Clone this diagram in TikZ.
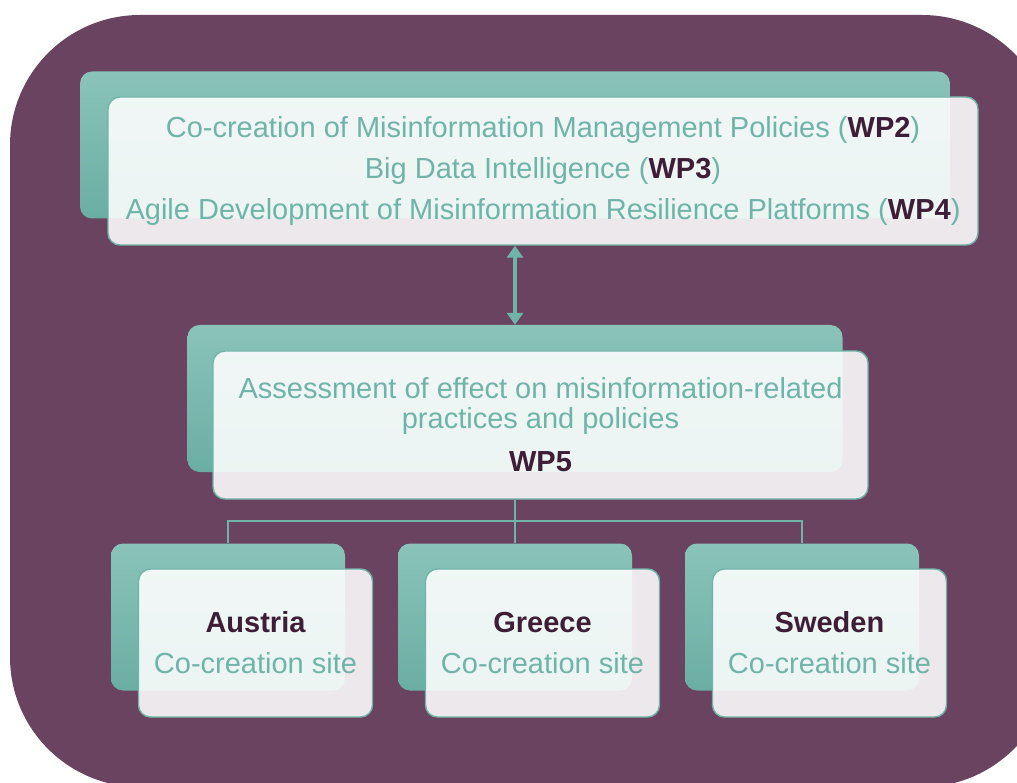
\documentclass[tikz,border=0pt]{standalone}
\usepackage{fontspec}
\setmainfont{Liberation Sans}
\usetikzlibrary{arrows.meta}
\definecolor{plum}{HTML}{6A4360}
\definecolor{tealhi}{HTML}{8AC3B9}
\definecolor{teallo}{HTML}{6AAEA3}
\definecolor{tealtext}{HTML}{6FB4A8}
\definecolor{darkplum}{HTML}{3E1E36}
\newcommand{\wpno}[1]{{\color{darkplum}\bfseries #1}}
\begin{document}
\begin{tikzpicture}[x=1pt,y=-1pt,
back/.style = {rounded corners=12pt, top color=tealhi, bottom color=teallo, minimum width=#1, minimum height=147pt},
front/.style = {draw=tealtext, line width=1.4pt, rounded corners=12pt, fill=white, fill opacity=0.88, text opacity=1, text=tealtext, align=center, inner sep=0pt, minimum width=#1, minimum height=148pt},
link/.style = {draw=tealtext, line width=1.2pt},
twoway/.style = {draw=tealtext, line width=4.5pt, {Triangle[length=12pt,width=16pt]}-{Triangle[length=12pt,width=16pt]}},]
\useasboundingbox (0,0) rectangle (1017,783);
\clip (0,0) rectangle (1017,783);
\fill[plum, rounded corners=130pt] (10,15) rectangle (1052,787);
% work packages
\node (Tb) at (515,145)[back=870pt] {};
\node (T) at (543,171)[front=870pt, font=\fontsize{29}{41}\selectfont] {Co-creation of Misinformation Management Policies (\wpno{WP2})\\Big Data Intelligence (\wpno{WP3})\\Agile Development of Misinformation Resilience Platforms (\wpno{WP4})};
\node (Mb) at (515,398.5)[back=655pt] {};
\node (M) at (540.5,425)[front=655pt, font=\fontsize{29}{30}\selectfont] {Assessment of effect on misinformation-related\\practices and policies\\[13pt]\wpno{WP5}};
% sites
\node (Ab) at (228,617)[back=234pt] {};
\node (A) at (255.5,643)[front=234pt, font=\fontsize{29}{41}\selectfont] {\wpno{Austria}\\Co-creation site};
\node (Gb) at (515,617)[back=234pt] {};
\node (G) at (542.5,643)[front=234pt, font=\fontsize{29}{41}\selectfont] {\wpno{Greece}\\Co-creation site};
\node (Sb) at (802,617)[back=234pt] {};
\node (S) at (829.5,643)[front=234pt, font=\fontsize{29}{41}\selectfont] {\wpno{Sweden}\\Co-creation site};
\coordinate (j) at (515,521);
\draw[twoway] (T.south -| Tb.south) -- (Mb.north);
\draw[link] (M.south -| j) -- (j);
\draw[link] (j) -- (Gb.north);
\draw[link] (Ab.north) |- (j) -| (Sb.north);
\end{tikzpicture}
\end{document}
